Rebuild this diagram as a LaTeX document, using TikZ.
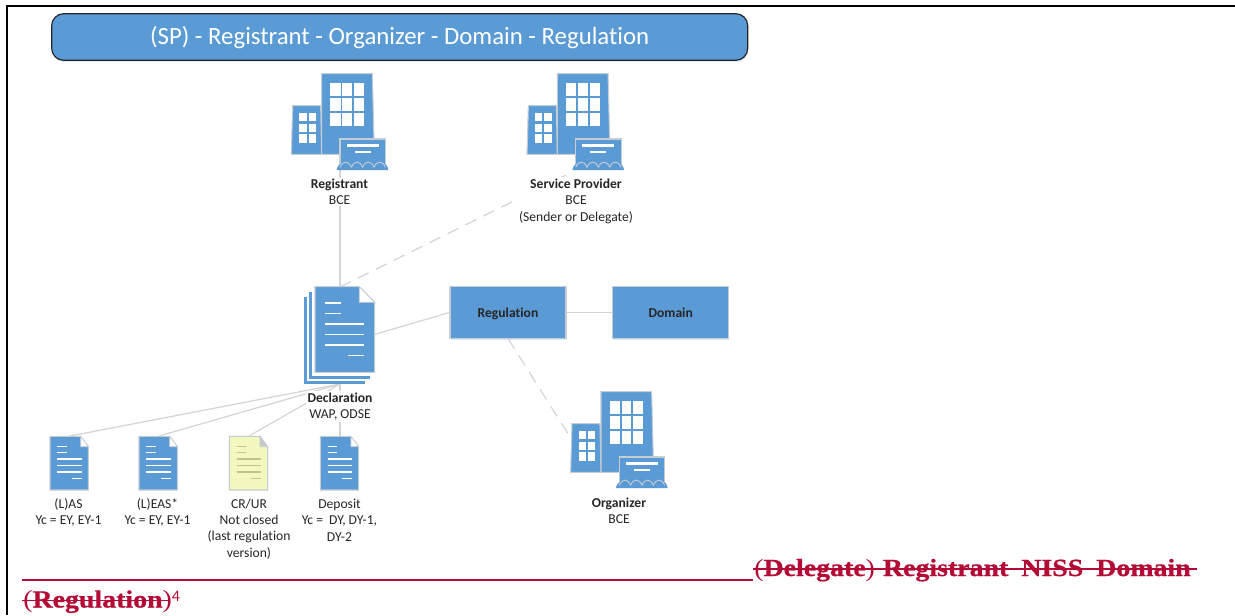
\documentclass[tikz,border=0pt]{standalone}
\usepackage{fontspec}
\usetikzlibrary{shadows}
\setmainfont[Ligatures=NoCommon]{Carlito}
\newfontfamily\redfont[FakeStretch=1.13,BoldFeatures={FakeBold=0.6}]{Liberation Serif}
\definecolor{iconblue}{HTML}{5B9BD5}
\definecolor{edgegray}{HTML}{C4CCD4}
\definecolor{linkgray}{HTML}{D4D4D4}
\definecolor{notecream}{HTML}{F3F8BE}
\definecolor{notegray}{HTML}{C9C9C9}
\definecolor{noteline}{HTML}{BFC48E}
\definecolor{strike}{HTML}{B30B36}
\tikzset{
  softshadow/.style={drop shadow={shadow xshift=0.4pt,shadow yshift=-1.2pt,fill=iconblue,opacity=0.22}},
  link/.style={draw=linkgray,line width=0.9pt},
  dashlink/.style={link,dash pattern=on 9pt off 6pt},
  lbl/.style={align=center,font=\fontsize{10.2}{12.3}\selectfont,text=black!85,inner sep=1pt,fill=white},
  boxn/.style={draw=edgegray,line width=0.9pt,fill=iconblue,softshadow,minimum width=87pt,minimum height=38.7pt,inner sep=0pt,text height=9pt,text depth=1pt,font=\fontsize{10.2}{12}\selectfont\bfseries,text=black!85},
  bldg/.pic={
    \begin{scope}[x=0.25pt,y=-0.25pt,line width=0.8pt]
      \path[draw=edgegray,fill=iconblue] (38,137)--(122,137)--(125,283)--(34,283)--cycle;
      \path[draw=edgegray,fill=iconblue] (125,41)--(277,41)--(283,283)--(125,283)--cycle;
      \foreach \xa/\xb in {151/182,187/216,222/252}
        \foreach \ya/\yb in {70/107,115/152,160/197}
          \fill[white] (\xa,\ya) rectangle (\xb,\yb);
      \foreach \xa/\xb in {58/80,86/108}
        \foreach \ya/\yb in {158/184,191/217,222/249}
          \fill[white] (\xa,\ya) rectangle (\xb,\yb);
      \path[draw=edgegray,fill=iconblue] (180,237) rectangle (316,320);
      \path[fill=iconblue] (170,330) .. controls (172,318) and (178,310) .. (190,310) -- (306,310) .. controls (318,310) and (323,318) .. (325,330) -- cycle;
      \foreach \xx in {180,214,248,282}
        \draw[edgegray,line width=0.7pt] (\xx,322) .. controls (\xx+8,301) and (\xx+26,301) .. (\xx+34,322);
      \fill[white] (200,253) rectangle (296,260);
      \fill[white] (224,272) rectangle (272,279);
    \end{scope}
  },
}
\newcommand{\smalldocicon}[4]{% x-shift, fill, fold, line colour
  \begin{scope}[shift={(#1,425)},x=0.25pt,y=-0.25pt]
    \path[draw=edgegray,line width=0.8pt,fill=#2] (90,34)--(182,34)--(205,65)--(205,195)--(90,195)--cycle;
    \path[fill=#3,draw=edgegray,line width=0.5pt] (182,34)--(205,65)--(182,65)--cycle;
    \foreach \ya/\xa/\xb in {65/112/140,83/112/140,102/112/185,122/112/185,141/112/185,160/156/185}
      \draw[#4,line width=0.8pt] (\xa,\ya)--(\xb,\ya);
  \end{scope}}
\begin{document}
\begin{tikzpicture}[x=0.75pt,y=-0.75pt]
\useasboundingbox (0,0) rectangle (1235,615);
\fill[white] (0,0) rectangle (1235,615);
% frame
\coordinate (frameTL) at (7,5.5);
\coordinate (frameTR) at (1235,5.5);
\coordinate (frameBL) at (7,615);
\draw[black,line width=1.5pt] (frameBL)--(frameTL)--(frameTR);
% title
\node[draw=black!85,line width=0.9pt,fill=iconblue,softshadow,rounded corners=9pt,minimum width=522pt,minimum height=35pt,inner sep=0pt,text height=15pt,text depth=3.3pt,text=white,font=\fontsize{18.6}{22}\selectfont] (title) at (399.7,37) {(SP) - Registrant - Organizer - Domain - Regulation};
% anchors of the icons
\coordinate (regIcon) at (340,170);
\coordinate (spIcon) at (573,171.7);
\coordinate (orgIcon) at (572,440);
\coordinate (declTop) at (340,287);
\coordinate (declBottom) at (340,384);
\coordinate (declRight) at (375,334.3);
\coordinate (lasTop) at (70,436);
\coordinate (easTop) at (159,436);
\coordinate (crTop) at (249,436);
\coordinate (depTop) at (340,436);
\node[boxn] (regulation) at (508,312.5) {Regulation};
\node[boxn] (domain) at (670.7,312.5) {Domain};
\coordinate (regulationBottom) at (508,338.5);
% connectors
\draw[link] (regIcon)--(declTop);
\draw[dashlink] (declTop)--(spIcon);
\draw[link] (declRight)--(regulation.west);
\draw[link] (regulation.east)--(domain.west);
\draw[dashlink] (regulationBottom)--(orgIcon);
\draw[link] (declBottom)--(lasTop);
\draw[link] (declBottom)--(easTop);
\draw[link] (declBottom)--(crTop);
\draw[link] (declBottom)--(depTop);
% buildings
\pic at (280,60) {bldg};
\pic at (515.7,60) {bldg};
\pic at (559.3,378) {bldg};
% declaration stack
\begin{scope}[shift={(290,270)},x=0.25pt,y=-0.25pt]
  \draw[iconblue,line width=1.8pt] (46,82)--(46,338)--(225,338);
  \draw[iconblue,line width=1.8pt] (62,66)--(62,322)--(240,322);
  \path[draw=edgegray,line width=0.8pt,fill=iconblue] (75,50)--(208,50)--(254,97)--(254,307)--(75,307)--cycle;
  \path[fill=white,draw=edgegray,line width=0.6pt] (208,50)--(254,97)--(208,97)--cycle;
  \foreach \ya/\xa/\xb in {99/105/152,131/105/152,162/105/221,193/105/221,225/105/221,257/174/221}
    \draw[white,line width=1pt] (\xa,\ya)--(\xb,\ya);
\end{scope}
% small documents
\smalldocicon{20}{iconblue}{white}{white}
\smalldocicon{109}{iconblue}{white}{white}
\smalldocicon{199.3}{notecream}{notegray}{noteline}
\smalldocicon{290.3}{iconblue}{white}{white}
% labels
\node[lbl] (regLbl) at (339.5,192) {\textbf{Registrant}\\BCE};
\node[lbl] (spLbl) at (576,201) {\textbf{Service Provider}\\BCE\\(Sender or Delegate)};
\node[lbl] (declLbl) at (340,406.5) {\textbf{Declaration}\\WAP, ODSE};
\node[lbl] (lasLbl) at (68.5,512.5) {(L)AS\\Yc = EY, EY-1};
\node[lbl] (easLbl) at (157.5,512.5) {(L)EAS*\\Yc = EY, EY-1};
\node[lbl] (crLbl) at (249,529) {CR/UR\\Not closed\\(last regulation\\version)};
\node[lbl] (depLbl) at (339.5,520) {Deposit\\Yc =\ \ DY, DY-1,\\DY-2};
\node[lbl] (orgLbl) at (619,510.5) {\textbf{Organizer}\\BCE};
% red text
\coordinate (ruleL) at (22,580);
\coordinate (ruleR) at (753,580);
\draw[strike,line width=1.1pt] (ruleL)--(ruleR);
\node[anchor=base west,inner sep=0pt,text=strike,font=\redfont\fontsize{18.5}{20}\selectfont] (redA) at (754,576) {(\textbf{Delegate})\hspace{6pt}\textbf{Registrant\hspace{4.5pt} NISS\hspace{4.5pt} Domain}};
\node[anchor=base west,inner sep=0pt,text=strike,font=\redfont\fontsize{18.5}{20}\selectfont] (redB) at (23,607.5) {(\textbf{Regulation})};
\node[anchor=base west,inner sep=0pt,text=strike,font=\fontsize{12}{13}\selectfont] (redC) at (171.5,601) {4};
\coordinate (sa1) at (753,569);
\coordinate (sa2) at (1197,569);
\coordinate (sb1) at (22,600.5);
\coordinate (sb2) at (169,600.5);
\draw[strike,line width=0.9pt] (sa1)--(sa2);
\draw[strike,line width=0.9pt] (sb1)--(sb2);
\end{tikzpicture}
\end{document}
